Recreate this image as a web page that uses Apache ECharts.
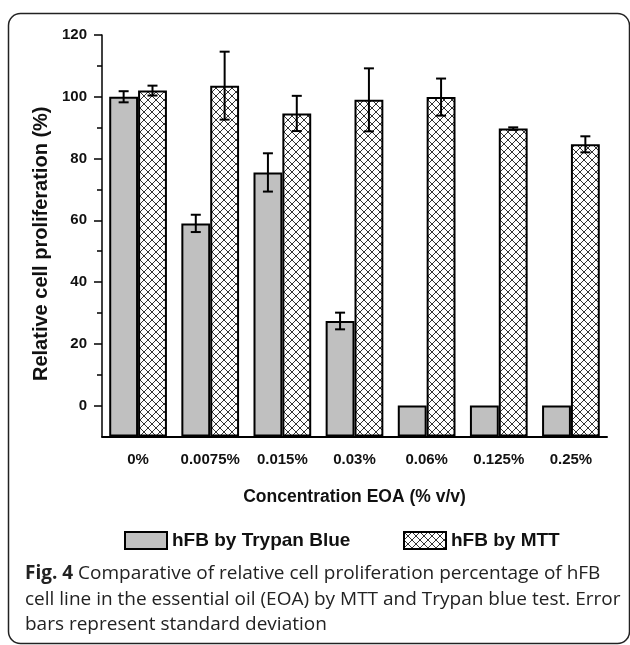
<!DOCTYPE html>
<html>
<head>
<meta charset="utf-8">
<script src="https://cdn.jsdelivr.net/npm/echarts@6/dist/echarts.min.js"></script>
<style>
    html, body { margin: 0; padding: 0; background: #fff; }
    #chart { width: 630px; height: 645px; }
</style>
</head>
<body>
<div id="chart"></div>
<script>

// 資料

const categories = ['0%', '0.0075%', '0.015%', '0.03%', '0.06%', '0.125%', '0.25%'];

const trypanMean = [100, 59, 75.5, 27.4, 0, 0, 0];
const trypanSd = [1.8, 2.8, 6.2, 2.7, 0, 0, 0];

const mttMean = [102, 103.6, 94.6, 99, 99.9, 89.7, 84.6];
const mttSd = [1.6, 11, 5.7, 10.2, 6, 0.4, 2.6];

const yLabels = [0, 20, 40, 60, 80, 100, 120];
const yMinorTicks = [10, 30, 50, 70, 90, 110];

const boldFont = '"Liberation Sans", Arial, sans-serif';
const captionFont = '"Open Sans", sans-serif';

// 交叉斜線圖樣

function crossHatch() {
    const size = 8;
    const canvas = document.createElement('canvas');
    canvas.width = size;
    canvas.height = size;
    const ctx = canvas.getContext('2d');
    ctx.fillStyle = '#fff';
    ctx.fillRect(0, 0, size, size);
    ctx.strokeStyle = '#333';
    ctx.lineWidth = 1;
    ctx.beginPath();
    ctx.moveTo(-1, -1); ctx.lineTo(size + 1, size + 1);
    ctx.moveTo(size + 1, -1); ctx.lineTo(-1, size + 1);
    ctx.stroke();
    return canvas;
}

// 誤差線

function errorSeries(name, mean, sd, side) {
    const data = [];
    mean.forEach((m, i) => {
        if (sd[i] > 0) data.push([i, m - sd[i], m + sd[i]]);
    });
    return {
        name,
        type: 'custom',
        z: 5,
        data,
        renderItem: function (params, api) {
            const lo = api.coord([api.value(0), api.value(1)]);
            const hi = api.coord([api.value(0), api.value(2)]);
            const bw = api.size([1, 0])[0];
            const x = lo[0] + side * bw * 0.2;
            const cap = 5;
            const style = { stroke: '#000', lineWidth: 2 };
            return {
                type: 'group',
                children: [
                    { type: 'line', shape: { x1: x, y1: lo[1], x2: x, y2: hi[1] }, style },
                    { type: 'line', shape: { x1: x - cap, y1: hi[1], x2: x + cap, y2: hi[1] }, style },
                    { type: 'line', shape: { x1: x - cap, y1: lo[1], x2: x + cap, y2: lo[1] }, style },
                ]
            };
        }
    };
}

function captionLine(text, top) {
    return {
        type: 'text',
        left: 25,
        top,
        style: {
            text,
            font: '19px ' + captionFont,
            fill: '#222',
            rich: {
                b: { fontFamily: captionFont, fontWeight: 'bold', fontSize: 19, fill: '#222' }
            }
        }
    };
}

function renderChart() {

    const chart = echarts.init(document.querySelector('#chart'));
    const hatch = { image: crossHatch(), repeat: 'repeat' };

    const legendText = {
        fontFamily: boldFont,
        fontWeight: 'bold',
        fontSize: 19,
        color: '#111',
    };

    const option = {
        animation: false,
        grid: {
            left: 102,
            right: 23,
            top: 35,
            bottom: 208.5,
        },
        legend: [
            {
                data: ['hFB by Trypan Blue'],
                left: 124,
                top: 531,
                padding: 0,
                icon: 'rect',
                itemWidth: 42,
                itemHeight: 17,
                itemGap: 7,
                textStyle: legendText,
            },
            {
                data: ['hFB by MTT'],
                left: 403,
                top: 531,
                padding: 0,
                icon: 'rect',
                itemWidth: 42,
                itemHeight: 17,
                textStyle: legendText,
            }
        ],
        xAxis: [
            {
                type: 'category',
                data: categories,
                position: 'bottom',
                name: 'Concentration EOA (% v/v)',
                nameLocation: 'middle',
                nameGap: 52,
                nameTextStyle: {
                    fontFamily: boldFont,
                    fontWeight: 'bold',
                    fontSize: 17.5,
                    color: '#111',
                },
                axisLine: { onZero: false, lineStyle: { color: '#000', width: 2 } },
                axisTick: { alignWithLabel: true, length: 7, lineStyle: { color: '#000', width: 1.5 } },
                axisLabel: {
                    interval: 0,
                    margin: 16,
                    fontFamily: boldFont,
                    fontWeight: 'bold',
                    fontSize: 15,
                    color: '#111',
                },
                splitLine: { show: false },
            },
            {
                // 分類邊界的短刻度
                type: 'category',
                data: categories,
                position: 'bottom',
                axisLine: { show: false, onZero: false },
                axisTick: { interval: 0, length: 4, lineStyle: { color: '#000', width: 1.5 } },
                axisLabel: { show: false },
                splitLine: { show: false },
            }
        ],
        yAxis: [
            {
                type: 'value',
                min: -10,
                max: 120,
                startValue: -10,
                name: 'Relative cell proliferation (%)',
                nameLocation: 'middle',
                nameGap: 50,
                nameTextStyle: {
                    fontFamily: boldFont,
                    fontWeight: 'bold',
                    fontSize: 20,
                    color: '#111',
                    padding: [0, 16, 0, 0],
                },
                axisLine: { show: true, lineStyle: { color: '#000', width: 1.5 } },
                axisTick: { show: true, length: 8, customValues: yLabels, lineStyle: { color: '#000', width: 1.5 } },
                axisLabel: {
                    customValues: yLabels,
                    margin: 15,
                    fontFamily: boldFont,
                    fontWeight: 'bold',
                    fontSize: 15,
                    color: '#111',
                },
                splitLine: { show: false },
            },
            {
                // 次刻度
                type: 'value',
                min: -10,
                max: 120,
                position: 'left',
                axisLine: { show: false },
                axisTick: { show: true, length: 5, customValues: yMinorTicks, lineStyle: { color: '#000', width: 1.5 } },
                axisLabel: { show: false },
                splitLine: { show: false },
            }
        ],
        series: [
            {
                name: 'hFB by Trypan Blue',
                type: 'bar',
                data: trypanMean,
                barGap: '0%',
                barCategoryGap: '20%',
                itemStyle: { color: '#c0c0c0', borderColor: '#000', borderWidth: 2 },
            },
            {
                name: 'hFB by MTT',
                type: 'bar',
                data: mttMean,
                barGap: '0%',
                barCategoryGap: '20%',
                itemStyle: { color: hatch, borderColor: '#000', borderWidth: 2 },
            },
            errorSeries('sd-trypan', trypanMean, trypanSd, -1),
            errorSeries('sd-mtt', mttMean, mttSd, 1),
        ],
        graphic: [
            {
                type: 'rect',
                silent: true,
                shape: { x: 8.5, y: 13.5, width: 621, height: 630, r: 12 },
                style: { fill: 'none', stroke: '#222', lineWidth: 1.5 },
            },
            captionLine('{b|Fig. 4} Comparative of relative cell proliferation percentage of hFB', 564),
            captionLine('cell line in the essential oil (EOA) by MTT and Trypan blue test. Error', 590),
            captionLine('bars represent standard deviation', 615),
        ]
    };

    option && chart.setOption(option);

}

renderChart();

</script>
</body>
</html>
